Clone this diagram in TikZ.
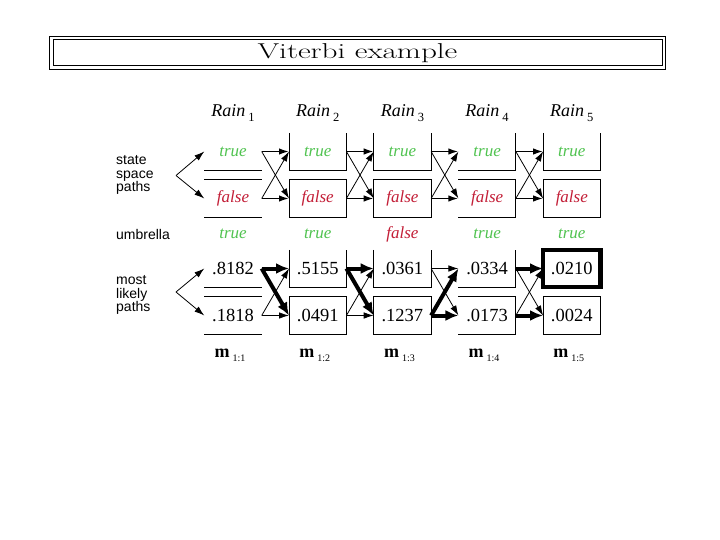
\documentclass[tikz,border=0pt]{standalone}
\usepackage{fontspec}
\usepackage{graphicx}
\usepackage{tikz}
\usetikzlibrary{arrows.meta}

\newfontfamily\rmtimes{Liberation Serif}
\newfontfamily\sfarial{Liberation Sans}
\definecolor{truegreen}{RGB}{80,195,80}
\definecolor{falsered}{RGB}{195,30,55}

\begin{document}
\begin{tikzpicture}[x=1pt,y=-1pt,
  cell/.style={minimum width=57pt,minimum height=37pt,inner sep=0pt,font=\rmtimes\fontsize{18.5}{18.5}\selectfont},
  tv/.style={cell,text=truegreen,font=\rmtimes\itshape\fontsize{17}{17}\selectfont},
  fv/.style={cell,text=falsered,font=\rmtimes\itshape\fontsize{17}{17}\selectfont},
  head/.style={inner sep=0pt,font=\rmtimes\itshape\fontsize{18}{18}\selectfont},
  mlab/.style={inner sep=0pt,font=\rmtimes\fontsize{18}{18}\selectfont},
  side/.style={inner sep=0pt,align=left,anchor=west,font=\sfarial\fontsize{14}{13.8}\selectfont},
  rule/.style={line width=1pt},
  best/.style={line width=4.5pt},
  hedge/.style={line width=1.6pt,-{Latex[length=10pt,width=6.5pt]}},
  dedge/.style={line width=0.8pt,-{Latex[length=10pt,width=6.5pt]}},
  weak/.style={line width=0.8pt,-{Latex[length=10pt,width=6.5pt]}},
  strong/.style={line width=4pt,-{Latex[length=13pt,width=11pt]}}]

\fill[white] (0,0) rectangle (720,540);
\useasboundingbox (0,0) rectangle (720,540);

% title
\node[draw,line width=1pt,minimum width=609pt,minimum height=26pt,inner sep=0pt] (title) at (357.5,53)
  {\scalebox{1.45}[1]{\fontsize{21.5}{21.5}\selectfont Viterbi example}};
\draw[line width=1pt] ([shift={(-3,-3)}]title.north west) rectangle ([shift={(3,3)}]title.south east);

% columns
\foreach \i/\x/\us/\u/\p/\q in {1/233/tv/true/.8182/.1818, 2/317.7/tv/true/.5155/.0491, 3/402.4/fv/false/.0361/.1237, 4/487.1/tv/true/.0334/.0173, 5/571.8/tv/true/.0210/.0024} {
  \node[head] (r\i) at (\x,113) {Rain\,\raisebox{-5pt}{\fontsize{12.5}{12.5}\selectfont\upshape\i}};
  \node[tv] (t\i) at (\x,151.5) {true};
  \node[fv] (f\i) at (\x,198.5) {false};
  \node[\us] (u\i) at (\x,234) {\u};
  \node[cell] (p\i) at (\x,268.5) {\p};
  \node[cell] (q\i) at (\x,315.5) {\q};
  \node[mlab] (m\i) at (\x-3,355) {\textbf{m}\,\raisebox{-4pt}{\fontsize{10}{10}\selectfont 1:\i}};
}

% left labels
\node[side] (ssp) at (116,175) {state\\space\\paths};
\node[side] (umb) at (116,234) {umbrella};
\node[side] (mlp) at (116,295) {most\\likely\\paths};

% box outlines
\draw[rule] (t1.south west) -- (t1.south east) (f1.north west) -- (f1.north east) (f1.south west) -- (f1.south east);
\draw[rule] (p1.south west) -- (p1.south east) (q1.north west) -- (q1.north east) (q1.south west) -- (q1.south east);
\foreach \c in {t2,t3,t5,p2,p3}
  \draw[rule] (\c.north west) |- (\c.south east) -- (\c.north east);
\foreach \c in {f2,f3,f5,q2,q3,q5}
  \draw[rule] (\c.north west) rectangle (\c.south east);
\foreach \c in {t4,p4}
  \draw[rule] (\c.south west) -| (\c.north east);
\foreach \c in {f4,q4}
  \draw[rule] (\c.north west) -| (\c.south east) -- (\c.south west);
\draw[best] (p5.north west) rectangle (p5.south east);

% branching arrows
\coordinate (sv) at (176,175.5);
\coordinate (mv) at (176,292);
\draw[dedge] (sv) -- (t1.west);
\draw[dedge] (sv) -- (f1.west);
\draw[dedge] (mv) -- (p1.west);
\draw[dedge] (mv) -- (q1.west);

% state space transitions
\foreach \i/\j in {1/2,2/3,3/4,4/5} {
  \draw[hedge] (t\i.east) -- (t\j.west);
  \draw[hedge] (f\i.east) -- (f\j.west);
  \draw[dedge] (t\i.east) -- (f\j.west);
  \draw[dedge] (f\i.east) -- (t\j.west);
}

% most likely transitions
\foreach \a/\b/\s in {q1/p2/weak, q1/q2/weak, p1/p2/strong, p1/q2/strong,
                      q2/p3/weak, q2/q3/weak, p2/p3/strong, p2/q3/strong,
                      p3/p4/weak, p3/q4/weak, q3/p4/strong, q3/q4/strong,
                      p4/q5/weak, q4/p5/weak, p4/p5/strong, q4/q5/strong}
  \draw[\s] (\a.east) -- (\b.west);

\end{tikzpicture}
\end{document}
